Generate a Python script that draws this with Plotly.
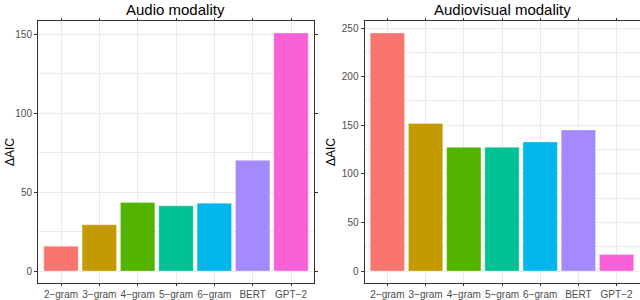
import plotly.graph_objects as go

categories = ["2\u2212gram", "3\u2212gram", "4\u2212gram", "5\u2212gram", "6\u2212gram", "BERT", "GPT\u22122"]
audio_values = [15.8, 29.4, 43.5, 41.3, 43.0, 70.1, 150.8]
audiovisual_values = [245.0, 151.9, 127.4, 127.4, 132.9, 145.2, 17.0]
colors = ["#F8766D", "#C49A00", "#53B400", "#00C094", "#00B6EB", "#A58AFF", "#FB61D7"]
titles = ["Audio modality", "Audiovisual modality"]
y_title = "\u0394AIC"

W, H = 640, 300

def px(x):
    return x / W

def py(y):
    return 1 - y / H

fig = go.Figure()
fig.add_trace(go.Bar(x=categories, y=audio_values, marker=dict(color=colors, line=dict(color="rgba(255,255,255,0.6)", width=0.6)),
                     xaxis="x", yaxis="y", showlegend=False))
fig.add_trace(go.Bar(x=categories, y=audiovisual_values, marker=dict(color=colors, line=dict(color="rgba(255,255,255,0.6)", width=0.6)),
                     xaxis="x2", yaxis="y2", showlegend=False))

font = dict(family="Liberation Sans, Arial, sans-serif", size=10, color="#4D4D4D")
grid = "#EBEBEB"

def xaxis(domain, anchor):
    return dict(domain=domain, anchor=anchor, type="category", range=[-0.6, 6.6],
                showgrid=True, gridcolor=grid, gridwidth=1,
                showline=True, mirror="all", linecolor="#333333", linewidth=1,
                ticks="outside", ticklen=2, tickcolor="#333333", tickwidth=1,
                tickangle=0, automargin=False,
                tickfont=font, zeroline=False, fixedrange=True)

def yaxis(domain, anchor, rng, dtick):
    return dict(domain=domain, anchor=anchor, range=rng, dtick=dtick, tick0=0,
                showgrid=True, gridcolor=grid, gridwidth=1,
                minor=dict(dtick=dtick / 2, tick0=0, showgrid=True, gridcolor=grid, gridwidth=0.5),
                showline=True, mirror="all", linecolor="#333333", linewidth=1,
                ticks="outside", ticklen=3, tickcolor="#333333", tickwidth=1,
                automargin=False,
                tickfont=font, zeroline=False, fixedrange=True)

ydom = [py(283), py(21)]
x1dom = [px(38), px(314)]
x2dom = [px(364.5), px(639.5)]
amax = max(audio_values)
avmax = max(audiovisual_values)

tfont = dict(family="Liberation Sans, Arial, sans-serif", size=15, color="black")
afont = dict(family="Liberation Sans, Arial, sans-serif", size=12, color="black")

fig.update_layout(
    width=W, height=H,
    margin=dict(l=0, r=0, t=0, b=0, autoexpand=False),
    paper_bgcolor="white", plot_bgcolor="white",
    bargap=0.1,
    xaxis=xaxis(x1dom, "y"),
    yaxis=yaxis(ydom, "x", [-0.05 * amax, 1.05 * amax], 50),
    xaxis2=xaxis(x2dom, "y2"),
    yaxis2=yaxis(ydom, "x2", [-0.05 * avmax, 1.05 * avmax], 50),
    annotations=[
        dict(text=titles[0], x=sum(x1dom) / 2, y=py(10), xref="paper", yref="paper",
             xanchor="center", yanchor="middle", showarrow=False, font=tfont),
        dict(text=titles[1], x=sum(x2dom) / 2, y=py(10), xref="paper", yref="paper",
             xanchor="center", yanchor="middle", showarrow=False, font=tfont),
        dict(text=y_title, x=px(10), y=py(152), xref="paper", yref="paper", textangle=-90,
             xanchor="center", yanchor="middle", showarrow=False, font=afont),
        dict(text=y_title, x=px(331), y=py(152), xref="paper", yref="paper", textangle=-90,
             xanchor="center", yanchor="middle", showarrow=False, font=afont),
    ],
)

fig.write_html("out.html", config={"displayModeBar": False},
               post_script="document.body.style.margin='0';document.body.style.overflow='hidden';")
